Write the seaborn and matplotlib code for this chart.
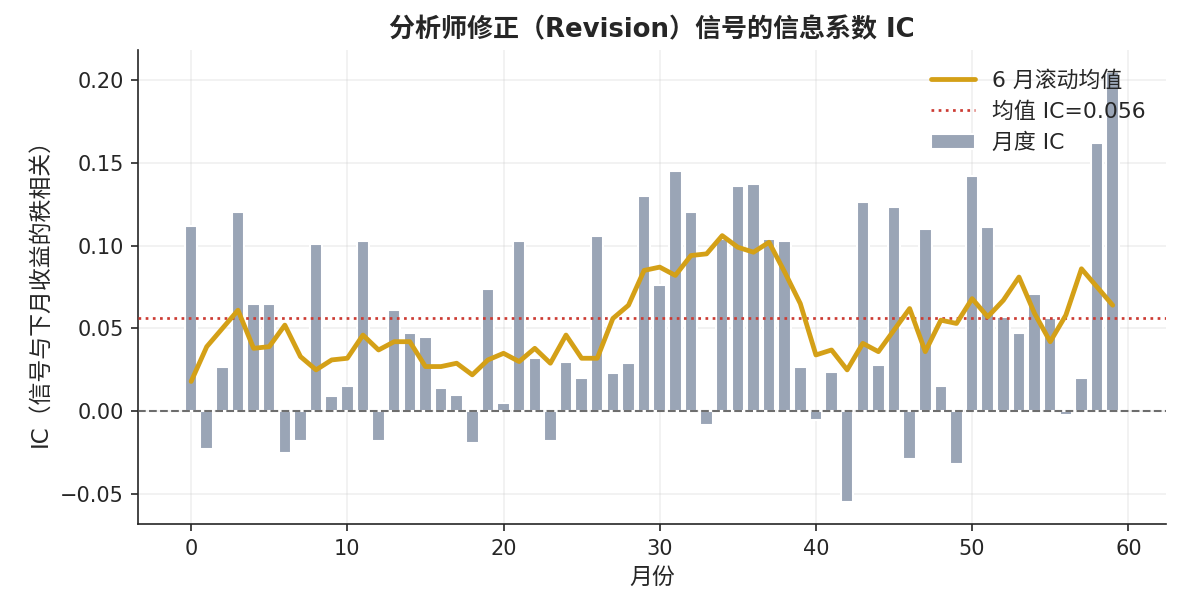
import numpy as np
import pandas as pd
import matplotlib
matplotlib.use("Agg")
import matplotlib.pyplot as plt
import seaborn as sns

months = list(range(60))
monthly_ic = [
    0.112, -0.023, 0.027, 0.120, 0.065, 0.065, -0.025, -0.018, 0.101, 0.009,
    0.015, 0.103, -0.018, 0.061, 0.047, 0.045, 0.014, 0.010, -0.019, 0.074,
    0.005, 0.103, 0.032, -0.018, 0.030, 0.020, 0.106, 0.023, 0.029, 0.130,
    0.076, 0.145, 0.120, -0.008, 0.104, 0.136, 0.137, 0.104, 0.103, 0.027,
    -0.005, 0.024, -0.055, 0.126, 0.028, 0.123, -0.029, 0.110, 0.015, -0.032,
    0.142, 0.111, 0.057, 0.047, 0.071, 0.056, -0.002, 0.020, 0.162, 0.205,
]
rolling_ic = [
    0.018, 0.039, 0.050, 0.061, 0.038, 0.039, 0.052, 0.033, 0.025, 0.031,
    0.032, 0.046, 0.037, 0.042, 0.042, 0.027, 0.027, 0.029, 0.022, 0.031,
    0.035, 0.030, 0.038, 0.029, 0.046, 0.032, 0.032, 0.056, 0.064, 0.085,
    0.087, 0.082, 0.094, 0.095, 0.106, 0.099, 0.096, 0.102, 0.084, 0.065,
    0.034, 0.037, 0.025, 0.041, 0.036, 0.049, 0.062, 0.036, 0.055, 0.053,
    0.068, 0.057, 0.067, 0.081, 0.059, 0.042, 0.058, 0.086, 0.075, 0.064,
]
mean_ic = 0.056

df = pd.DataFrame({"month": months, "ic": monthly_ic, "roll": rolling_ic})

sns.set_style("ticks")
plt.rcParams["font.family"] = ["DejaVu Sans", "Noto Sans CJK SC"]
plt.rcParams["axes.unicode_minus"] = True

fig, ax = plt.subplots(figsize=(1181 / 150, 610 / 150), dpi=150)

sns.barplot(data=df, x="month", y="ic", native_scale=True, color="#9aa5b6",
            saturation=1, width=0.8, ax=ax, label="月度 IC", zorder=2)
ax.axhline(0, color="#555555", linestyle="--", linewidth=1.0, alpha=0.85, zorder=3)
ax.axhline(mean_ic, color="#cc3b33", linestyle=":", linewidth=1.3,
           label=f"均值 IC={mean_ic:.3f}", zorder=3)
sns.lineplot(data=df, x="month", y="roll", color="#d4a017", linewidth=2.3,
             ax=ax, label="6 月滚动均值", zorder=4)

ax.grid(True, alpha=0.3, zorder=0)
ax.set_axisbelow(True)
sns.despine(ax=ax)

ax.set_title("分析师修正（Revision）信号的信息系数 IC", fontsize=12.5, fontweight="bold")
ax.set_xlabel("月份", fontsize=11)
ax.set_ylabel("IC（信号与下月收益的秩相关）", fontsize=11)
ax.tick_params(labelsize=10)

handles, labels = ax.get_legend_handles_labels()
order = [labels.index("6 月滚动均值"), labels.index(f"均值 IC={mean_ic:.3f}"), labels.index("月度 IC")]
ax.legend([handles[i] for i in order], [labels[i] for i in order],
          loc="upper right", frameon=False, fontsize=10.5)

fig.subplots_adjust(left=0.117, right=0.987, bottom=0.141, top=0.918)
fig.savefig("out.png", dpi=150)
